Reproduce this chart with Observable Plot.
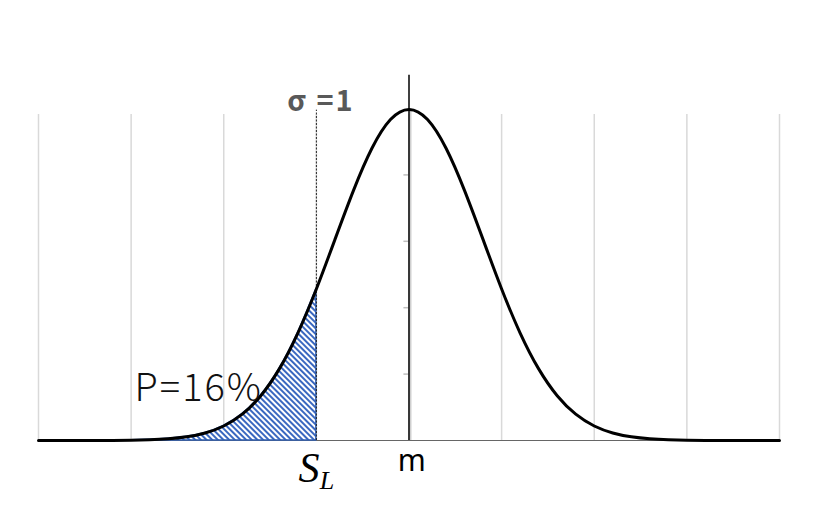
<!DOCTYPE html>
<html>
<head>
<meta charset="utf-8">
<script src="https://cdn.jsdelivr.net/npm/d3@7"></script>
<script src="https://cdn.jsdelivr.net/npm/@observablehq/plot@0.6"></script>
<style>
  html, body { margin: 0; padding: 0; background: #fff; }
  #chart { width: 816px; height: 517px; }
</style>
</head>
<body>
<div id="chart"></div>
<script>
// Bell curve, heights at each x (x in gridline units)
const xs = [-4, -3.8, -3.6, -3.4, -3.2, -3, -2.8, -2.6, -2.4, -2.2, -2, -1.8, -1.6, -1.4, -1.2, -1, -0.8, -0.6, -0.4, -0.2, 0,
            0.2, 0.4, 0.6, 0.8, 1, 1.2, 1.4, 1.6, 1.8, 2, 2.2, 2.4, 2.6, 2.8, 3, 3.2, 3.4, 3.6, 3.8, 4];
const ys = [0, 0, 0, 0.00005, 0.0001, 0.0004, 0.0009, 0.0020, 0.0044, 0.0091, 0.0175, 0.0317, 0.0540, 0.0863, 0.1295, 0.1826, 0.2420, 0.3011, 0.3521, 0.3867, 0.3989,
            0.3867, 0.3521, 0.3011, 0.2420, 0.1826, 0.1295, 0.0863, 0.0540, 0.0317, 0.0175, 0.0091, 0.0044, 0.0020, 0.0009, 0.0004, 0.0001, 0.00005, 0, 0, 0];
const gridX = [-4, -3, -2, -1, 0, 1, 2, 3, 4];
const yTicks = [0.08, 0.16, 0.24, 0.32];
const shadeFrom = -3.0;
const limitSL = -1;   // S_L
const labelSigma = ["σ =1"];
const labelP = ["P=16%"];
const labelS = ["S"];
const labelL = ["L"];
const labelM = ["m"];

const curve = xs.map((x, i) => ({x, y: ys[i]}));
const shade = curve.filter(d => d.x >= shadeFrom && d.x <= limitSL);

const chart = Plot.plot({
  width: 816,
  height: 517,
  marginLeft: 38,
  marginRight: 37,
  marginTop: 108,
  marginBottom: 77,
  x: {domain: [-4, 4], axis: null},
  y: {domain: [0, 0.4], axis: null},
  marks: [
    Plot.ruleX(gridX, {y1: 0, y2: 0.4, stroke: "#d9d9d9", strokeWidth: 1.5, insetBottom: -6}),
    Plot.ruleX([0], {y1: 0, y2: 0.4, stroke: "#cfcfcf", strokeWidth: 2, dx: 1.5}),
    Plot.ruleY(yTicks, {x1: -0.055, x2: 0, stroke: "#bfbfbf", strokeWidth: 1.5}),
    Plot.ruleY([0], {stroke: "#666", strokeWidth: 1}),
    Plot.areaY(shade, {x: "x", y: "y", curve: "natural", fill: "url(#hatch)", stroke: "#2f5fb3", strokeWidth: 1.5}),
    Plot.ruleX([limitSL], {y1: 0, y2: 0.398, stroke: "#222", strokeWidth: 1, strokeDasharray: "2,1.5"}),
    Plot.ruleX([0], {y1: 0, y2: 0.44, stroke: "#000", strokeWidth: 1.5}),
    Plot.line(curve, {x: "x", y: "y", curve: "natural", stroke: "#000", strokeWidth: 3}),
    Plot.text(labelSigma, {x: -0.95, y: 0.4085, text: d => d, fontSize: 29, fontWeight: "bold", fill: "#595959",
      fontFamily: "'Noto Sans CJK JP', 'Noto Sans', sans-serif", className: "sig"}),
    Plot.text(labelP, {x: -2.27, y: 0.0627, text: d => d, fontSize: 38, fontWeight: 300, fill: "#111",
      fontFamily: "'Noto Sans CJK JP', 'Noto Sans', sans-serif", className: "pval"}),
    Plot.text(labelS, {x: -1.08, y: -0.0337, text: d => d, fontSize: 42, fontStyle: "italic", fill: "#000",
      fontFamily: "'Liberation Serif', 'DejaVu Serif', serif"}),
    Plot.text(labelL, {x: -0.885, y: -0.049, text: d => d, fontSize: 26, fontStyle: "italic", fill: "#000",
      fontFamily: "'Liberation Serif', 'DejaVu Serif', serif"}),
    Plot.text(labelM, {x: 0.03, y: -0.0246, text: d => d, fontSize: 30, fill: "#000",
      fontFamily: "'Noto Sans', sans-serif"})
  ]
});

d3.select(chart).selectAll(".sig text").style("letter-spacing", "2px");
d3.select(chart).selectAll(".pval text").style("letter-spacing", "2px");

const defs = d3.select(chart).insert("defs", ":first-child");
const pat = defs.append("pattern")
  .attr("id", "hatch")
  .attr("patternUnits", "userSpaceOnUse")
  .attr("width", 4)
  .attr("height", 4)
  .attr("patternTransform", "rotate(45)");
pat.append("rect").attr("width", 4).attr("height", 4).attr("fill", "#fff");
pat.append("rect").attr("width", 4).attr("height", 2).attr("fill", "#3a68c0");

document.getElementById("chart").appendChild(chart);
</script>
</body>
</html>
